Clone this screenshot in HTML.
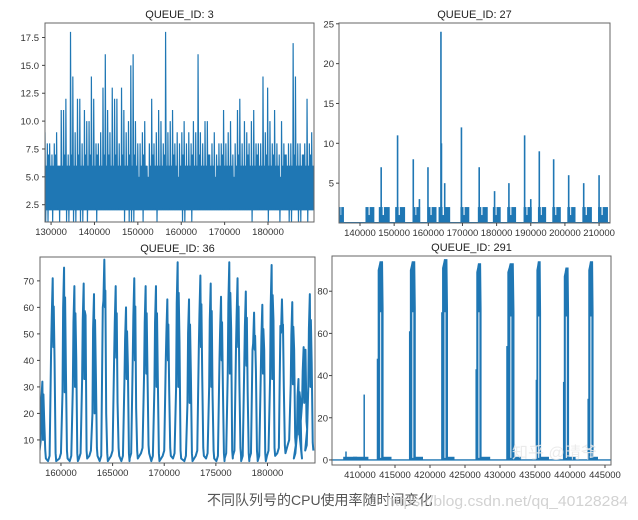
<!DOCTYPE html>
<html><head><meta charset="utf-8">
<style>
html,body{margin:0;padding:0;background:#fff;}
svg{display:block;font-family:"Liberation Sans","DejaVu Sans",sans-serif;}
</style></head>
<body>
<svg id="chart" width="638" height="520" viewBox="0 0 638 520" xmlns="http://www.w3.org/2000/svg">
<g id="p1"></g>
<g id="p2"></g>
<g id="p3"></g>
<g id="p4"></g>
<text x="207" y="505" font-size="14" fill="#555" font-family="'Liberation Sans','Noto Sans CJK SC',sans-serif">不同队列号的CPU使用率随时间变化</text>
<text x="386" y="506" font-size="15" fill="#c8c8c8" opacity="0.8" textLength="242" lengthAdjust="spacingAndGlyphs">https://blog.csdn.net/qq_40128284</text>
<text x="512" y="458" font-size="16" fill="#e8e8e8" opacity="0.85" font-family="'Liberation Sans','Noto Sans CJK SC',sans-serif">知乎 @晴爷</text>
</svg>
<script>
// ---------- Panel 1: QUEUE_ID 3 ----------
const q3XStart = 128600, q3XEnd = 190600;
const q3Peaks = [9,8,8,7,8,9,6,11,11,12,7,18,14,9,12,12,8,11,10,10,14,12,8,8,9,13,16,11,9,13,12,12,8,13,11,9,10,15,16,10,8,8,9,10,6,8,12,8,9,11,10,8,18,9,10,11,8,9,8,9,10,8,9,8,10,9,16,9,8,10,10,7,8,9,7,8,8,11,8,9,10,7,8,11,12,8,10,9,8,10,11,8,8,8,14,9,13,10,8,11,8,7,10,8,7,8,8,17,14,8,8,7,8,12,8,9];
const q3Lows  = [1,1,2,1,2,2,1,2,2,1,1,2,1,1,2,1,1,2,1,2,2,2,1,2,2,2,2,2,2,2,2,2,2,2,1,2,1,1,1,2,2,2,1,2,2,2,2,2,1,2,2,2,2,2,2,2,2,2,2,1,1,2,2,1,2,2,2,2,2,2,2,2,2,2,2,2,2,2,2,2,2,2,2,2,2,2,2,2,2,1,2,2,2,2,2,2,1,2,2,2,2,1,2,2,2,1,1,2,2,1,1,2,2,1,2,2];
const q3Band  = [6,7,6,6,7,6,6,6,7,6,6,7,6,6,7,6,6,7,6,7,6,6,7,6,6,7,6,7,6,6,7,6,6,7,6,6,7,6,7,6,5,6,7,6,5,6,7,6,6,6,6,7,6,6,6,7,6,5,6,7,6,6,6,7,6,6,7,6,6,6,7,6,6,5,6,6,7,6,6,6,6,5,6,7,6,6,6,7,6,6,6,7,6,6,6,7,6,6,7,6,6,5,6,7,6,6,6,7,6,6,6,7,6,6,7,6];
const q3XTicks = [130000,140000,150000,160000,170000,180000];
const q3YTicks = [2.5,5.0,7.5,10.0,12.5,15.0,17.5];

// ---------- Panel 2: QUEUE_ID 27 ----------
const q27ClusterStart = [133800,141600,145500,150300,155500,159700,163000,169400,174500,178900,183100,187900,192100,196300,200700,205100,209700];
const q27ClusterEnd   = [135300,144200,148700,153200,157600,162400,166400,172000,177400,181200,185700,190300,194500,198800,203100,207900,212600];
const q27PeakX   = [146200,151000,155600,157400,159900,163700,163850,164800,169700,174900,179400,183600,188200,190000,192500,196700,201100,205500,210000];
const q27PeakVal = [7,11,8,3,7,24,10,5,12,7,4,5,11,3,9,8,6,5,6];
const q27XTicks = [140000,150000,160000,170000,180000,190000,200000,210000];
const q27YTicks = [5,10,15,20,25];

// ---------- Panel 3: QUEUE_ID 36 ----------
const q36PeakX   = [158200,159200,160300,161300,162200,163200,164200,165300,166300,167100,168200,169200,170300,171300,172400,173500,174500,175500,176300,177100,177900,178700,179500,180400,181400,182400,183000,183500,184100];
const q36Peaks   = [32,71,75,68,69,65,78,68,60,71,68,68,63,77,63,72,69,64,77,71,66,58,61,76,63,62,33,45,65];
const q36Shoulder= [17,40,36,41,57,35,20,24,38,22,35,33,29,47,35,34,27,30,52,31,28,36,44,55,30,44,25,44,39];
const q36Rise    = [10,45,28,30,33,20,60,41,33,40,35,30,40,30,24,45,30,40,35,45,38,44,35,33,53,31,12,24,30];
const q36Trough  = [3,2,3,2,3,4,2,4,2,3,5,2,4,3,2,4,3,2,3,4,2,3,2,4,5,8,3,14,6];
const q36XTicks = [160000,165000,170000,175000,180000];
const q36YTicks = [10,20,30,40,50,60,70];

// ---------- Panel 4: QUEUE_ID 291 ----------
const q291BurstStart = [412500,417100,421700,426600,431000,435200,439100,442600];
const q291BurstEnd   = [413300,417900,422500,427300,432000,435800,439800,443300];
const q291BurstPeak  = [94,94,95,93,93,94,91,94];
const q291BurstLow   = [72,72,72,72,70,70,70,70];
const q291BurstFirst = [48,61,70,43,54,38,37,29];
const q291SpikeX   = [408000,410600];
const q291SpikeVal = [4,31];
const q291IdleStart = [407600,409000,413300,417900,422500,427300,432000,435800,439800,443300];
const q291IdleEnd   = [409600,411200,414500,419000,423500,428600,433000,437000,440800,444000];
const q291XTicks = [410000,415000,420000,425000,430000,435000,440000,445000];
const q291YTicks = [0,20,40,60,80];

const NS = 'http://www.w3.org/2000/svg';
const BLUE = '#1f77b4';
function mk(tag, attrs, parent){
  const e = document.createElementNS(NS, tag);
  for (const k in attrs) e.setAttribute(k, attrs[k]);
  parent.appendChild(e);
  return e;
}
function axes(g, box, xd, yd){
  const sx = v => box.x0 + (v - xd[0]) / (xd[1] - xd[0]) * (box.x1 - box.x0);
  const sy = v => box.y1 - (v - yd[0]) / (yd[1] - yd[0]) * (box.y1 - box.y0);
  return {sx, sy};
}
function frame(g, box, title, xt, yt, sx, sy, fmt, yLabelX){
  const t = mk('text', {x:(box.x0+box.x1)/2, y:box.y0-5, 'text-anchor':'middle', 'font-size':11, fill:'#222'}, g);
  
  
  t.textContent = title;
  const r = mk('rect', {x:box.x0, y:box.y0, width:box.x1-box.x0, height:box.y1-box.y0, fill:'none', stroke:'#666', 'stroke-width':1}, g);
  
  
  xt.forEach(v => {
    const x = sx(v);
    mk('line', {x1:x, x2:x, y1:box.y1, y2:box.y1+3, stroke:'#444'}, g);
    const l = mk('text', {x:x, y:box.y1+13, 'text-anchor':'middle', 'font-size':9.5, fill:'#333'}, g);
    
    
    l.textContent = v;
  });
  yt.forEach(v => {
    const y = sy(v);
    mk('line', {x1:box.x0-3, x2:box.x0, y1:y, y2:y, stroke:'#444'}, g);
    const l = mk('text', {x:yLabelX, y:y+3.5, 'text-anchor':'end', 'font-size':9.5, fill:'#333'}, g);
    
    
    l.textContent = fmt(v);
  });
}
function clip(g, box, id){
  const cp = mk('clipPath', {id:id}, g);
  mk('rect', {x:box.x0, y:box.y0, width:box.x1-box.x0, height:box.y1-box.y0}, cp);
  return mk('g', {'clip-path':'url(#'+id+')'}, g);
}

// Panel 1
(function(){
  const g = document.getElementById('p1');
  const box = {x0:45, x1:314, y0:23, y1:222};
  const {sx, sy} = axes(g, box, [q3XStart, q3XEnd], [0.95, 18.8]);
  const c = clip(g, box, 'c1');
  const n = q3Peaks.length, dx = (q3XEnd - q3XStart) / n;
  const band = [];
  q3Band.forEach((b, i) => { band.push(sx(q3XStart + i*dx) + ',' + sy(b)); band.push(sx(q3XStart + (i+1)*dx) + ',' + sy(b)); });
  const bp = mk('polygon', {points: sx(q3XStart)+','+sy(2)+' '+band.join(' ')+' '+sx(q3XEnd)+','+sy(2), fill:BLUE}, c);
  
  
  const pts = [];
  q3Peaks.forEach((p, i) => {
    const x = q3XStart + i*dx;
    pts.push(sx(x)+','+sy(p));
    pts.push(sx(x+dx*0.3)+','+sy(q3Lows[i]));
    pts.push(sx(x+dx*0.6)+','+sy(q3Band[i]));
    pts.push(sx(x+dx*0.85)+','+sy(2));
  });
  const pl = mk('polyline', {points:pts.join(' '), fill:'none', stroke:BLUE, 'stroke-width':1.2}, c);
  
  
  frame(g, box, 'QUEUE_ID: 3', q3XTicks, q3YTicks, sx, sy, v => v.toFixed(1), 39);
})();

// Panel 2
(function(){
  const g = document.getElementById('p2');
  const box = {x0:339, x1:610, y0:23, y1:223};
  const {sx, sy} = axes(g, box, [133850, 213200], [0, 25.1]);
  const c = clip(g, box, 'c2');
  q27ClusterStart.forEach((s, i) => {
    const e = q27ClusterEnd[i];
    const r = mk('rect', {x:sx(s), y:sy(2), width:sx(e)-sx(s), height:sy(0)-sy(2), fill:BLUE}, c);
    
    
    const w = mk('rect', {x:sx(s)+(sx(e)-sx(s))*0.35, y:sy(2), width:(sx(e)-sx(s))*0.12, height:sy(1)-sy(2), fill:'#fff'}, c);
    
    
  });
  const base = mk('line', {x1:box.x0, x2:box.x1, y1:sy(0)-0.5, y2:sy(0)-0.5, stroke:BLUE, 'stroke-width':1}, c);
  
  
  q27PeakX.forEach((x, i) => {
    const l = mk('line', {x1:sx(x), x2:sx(x), y1:sy(0), y2:sy(q27PeakVal[i]), stroke:BLUE, 'stroke-width':1.6}, c);
    
    
  });
  frame(g, box, 'QUEUE_ID: 27', q27XTicks, q27YTicks, sx, sy, v => String(v), 334);
})();

// Panel 3
(function(){
  const g = document.getElementById('p3');
  const box = {x0:40, x1:315, y0:257, y1:463};
  const {sx, sy} = axes(g, box, [157970, 184600], [1.3, 79]);
  const c = clip(g, box, 'c3');
  const pts = [];
  q36PeakX.forEach((x, i) => {
    pts.push(sx(x-450)+','+sy(q36Trough[i]));
    pts.push(sx(x-300)+','+sy(q36Trough[i]+2));
    pts.push(sx(x-150)+','+sy(q36Rise[i]));
    pts.push(sx(x-90)+','+sy(q36Peaks[i]*0.8));
    pts.push(sx(x)+','+sy(q36Peaks[i]));
    pts.push(sx(x+60)+','+sy(q36Rise[i]));
    pts.push(sx(x+100)+','+sy(q36Peaks[i]*0.85));
    pts.push(sx(x+180)+','+sy(q36Shoulder[i]));
    pts.push(sx(x+280)+','+sy(q36Trough[i]+3));
    pts.push(sx(x+340)+','+sy(q36Trough[i]));
  });
  const pl = mk('polyline', {points:pts.join(' '), fill:'none', stroke:BLUE, 'stroke-width':2, 'stroke-linejoin':'round'}, c);
  
  
  frame(g, box, 'QUEUE_ID: 36', q36XTicks, q36YTicks, sx, sy, v => String(v), 34);
})();

// Panel 4
(function(){
  const g = document.getElementById('p4');
  const box = {x0:332, x1:611, y0:256, y1:465};
  const {sx, sy} = axes(g, box, [406000, 445860], [-2.4, 96.7]);
  const c = clip(g, box, 'c4');
  const base = mk('line', {x1:box.x0, x2:box.x1, y1:sy(0), y2:sy(0), stroke:BLUE, 'stroke-width':1.3}, c);
  
  
  q291IdleStart.forEach((s, i) => {
    const r = mk('rect', {x:sx(s), y:sy(1.5), width:sx(q291IdleEnd[i])-sx(s), height:sy(0)-sy(1.5), fill:BLUE}, c);
    
    
  });
  q291SpikeX.forEach((x, i) => {
    const l = mk('line', {x1:sx(x), x2:sx(x), y1:sy(0), y2:sy(q291SpikeVal[i]), stroke:BLUE, 'stroke-width':1.5}, c);
    
    
  });
  q291BurstStart.forEach((s, i) => {
    const e = q291BurstEnd[i], w = e - s;
    const f = mk('line', {x1:sx(s), x2:sx(s), y1:sy(0), y2:sy(q291BurstFirst[i]), stroke:BLUE, 'stroke-width':1.5}, c);
    
    
    const pts = [
      sx(s+w*0.12)+','+sy(0), sx(s+w*0.12)+','+sy(q291BurstPeak[i]-4),
      sx(s+w*0.3)+','+sy(q291BurstPeak[i]-2), sx(s+w*0.45)+','+sy(q291BurstPeak[i]),
      sx(s+w*0.9)+','+sy(q291BurstPeak[i]), sx(e)+','+sy(q291BurstLow[i]),
      sx(e)+','+sy(0)
    ];
    const p = mk('polygon', {points:pts.join(' '), fill:BLUE, stroke:BLUE, 'stroke-width':1}, c);
    
    
    const gap = mk('line', {x1:sx(s+w*0.55), x2:sx(s+w*0.55), y1:sy(q291BurstLow[i]-2), y2:sy(1), stroke:'#fff', 'stroke-width':1.2, opacity:0.8}, c);
    
    
  });
  frame(g, box, 'QUEUE_ID: 291', q291XTicks, q291YTicks, sx, sy, v => String(v), 328);
})();
</script>
</body></html>
